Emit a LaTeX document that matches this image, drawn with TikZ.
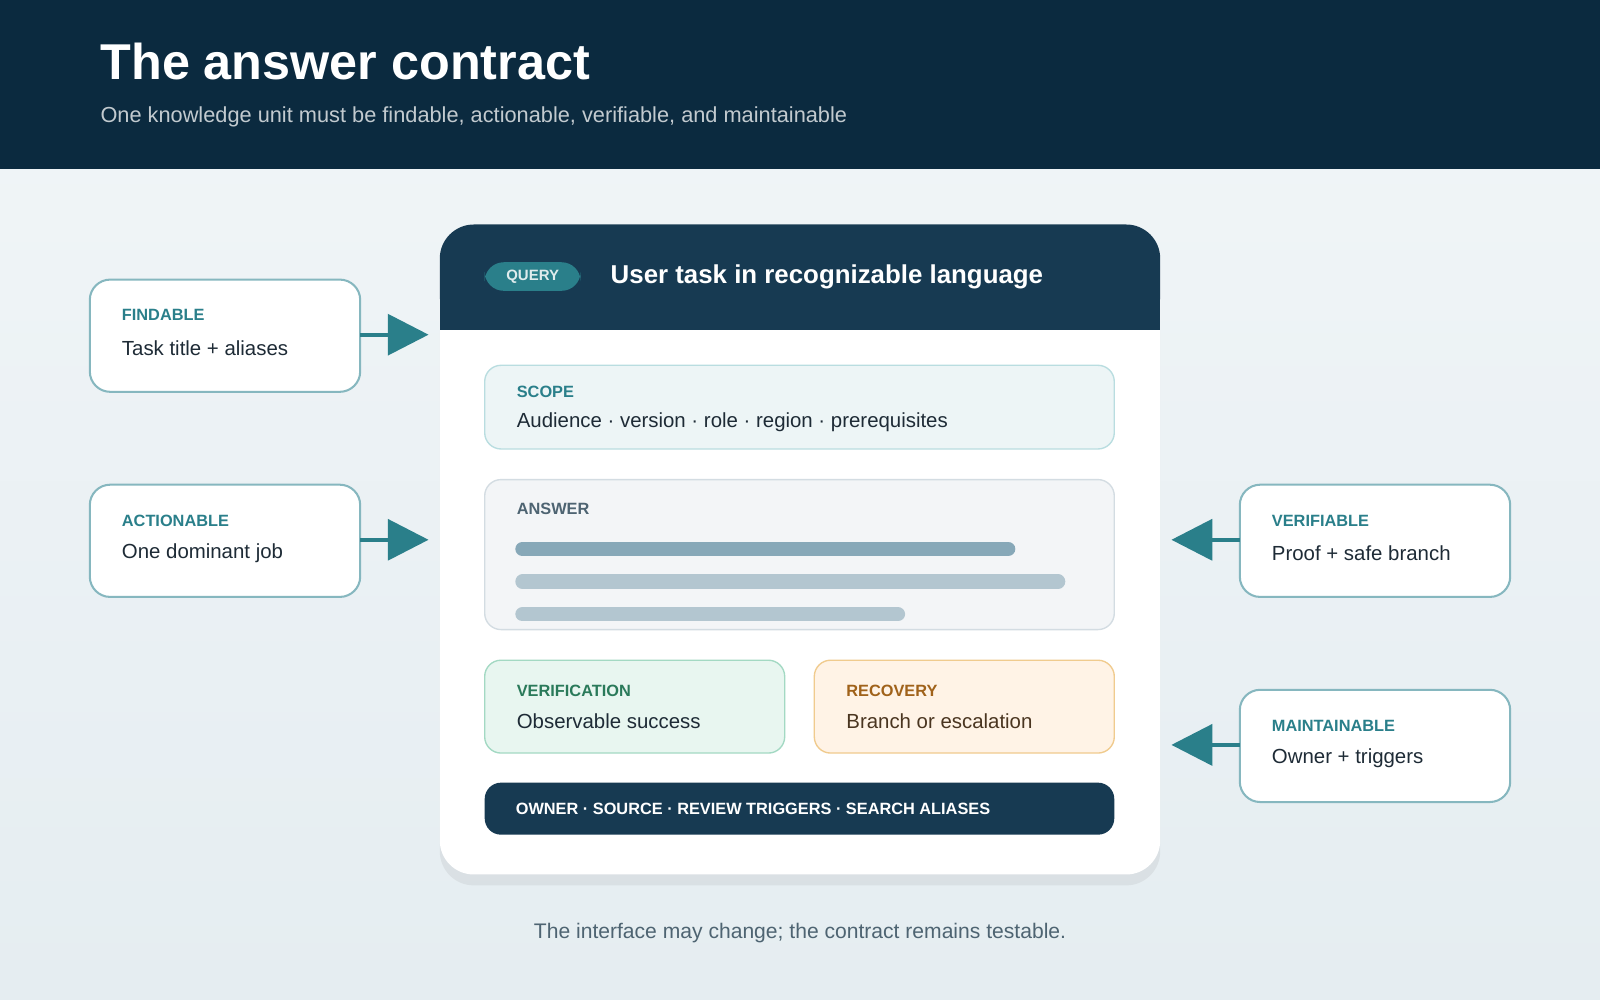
\documentclass[tikz,border=0pt]{standalone}
\usepackage{fontspec}
\setmainfont{Liberation Sans}
\usetikzlibrary{arrows.meta,shadows}
\definecolor{navy}{HTML}{0B2A3F}
\definecolor{cardtop}{HTML}{173A52}
\definecolor{teal}{HTML}{2A7F8A}
\definecolor{sideline}{HTML}{86B7BF}
\definecolor{bgpale}{HTML}{E5EDF1}
\definecolor{inktxt}{HTML}{1E2B36}
\definecolor{greytxt}{HTML}{4E6472}
\definecolor{scopefill}{HTML}{EDF5F6}
\definecolor{scopeline}{HTML}{B9DDE0}
\definecolor{ansfill}{HTML}{F3F5F7}
\definecolor{ansline}{HTML}{D3DCE2}
\definecolor{bardark}{HTML}{87A8B8}
\definecolor{barlight}{HTML}{B3C6D0}
\definecolor{verfill}{HTML}{E8F6F0}
\definecolor{verline}{HTML}{A3D9C3}
\definecolor{vertxt}{HTML}{2A7A5A}
\definecolor{recfill}{HTML}{FFF3E6}
\definecolor{recline}{HTML}{F0CB8E}
\definecolor{rectxt}{HTML}{A0621A}
\definecolor{recbody}{HTML}{4A3520}
\tikzset{every picture/.style={line width=0.75pt},
  sidebox/.style={draw=sideline,line width=1.5pt,fill=white,rounded corners=15},
  tag/.style={anchor=west,inner sep=0.75pt,font=\fontsize{12}{14}\selectfont\bfseries},
  body/.style={anchor=west,inner sep=0.75pt,font=\fontsize{15}{18}\selectfont,text=inktxt},
  pointer/.style={teal,line width=3pt,-{Triangle[length=30pt,width=30pt]}}}
\begin{document}
\begin{tikzpicture}[x=0.75pt,y=0.75pt,yscale=-1,xscale=1]
\useasboundingbox (0,0) rectangle (1568,980);
% background and header
\shade[top color=bgpale!60!white,bottom color=bgpale] (0,166) rectangle (1568,980);
\fill[navy] (0,0) rectangle (1568,166);
\node[anchor=west,inner sep=0pt,text=white,font=\fontsize{37}{40}\selectfont\bfseries] (title) at (98,60) {The answer contract};
\node[anchor=west,inner sep=0pt,text=white!75!navy,font=\fontsize{16}{19}\selectfont] (subtitle) at (98,115) {One knowledge unit must be findable, actionable, verifiable, and maintainable};
% card
\draw[fill=white,draw=none,rounded corners=25,drop shadow={shadow xshift=0pt,shadow yshift=-8pt,opacity=0.12}] (431,220) rectangle (1137,857);
\coordinate (cardW) at (420,540);
\coordinate (cardE) at (1148,540);
\fill[cardtop,rounded corners=25] (431,220) rectangle (1137,323);
\fill[cardtop] (431,280) rectangle (1137,323);
\fill[teal,rounded corners=14] (475,257) rectangle (569,285);
\node[inner sep=0pt,text=white!85!teal,font=\fontsize{11}{13}\selectfont\bfseries] (query) at (522,271) {QUERY};
\node[anchor=west,inner sep=0pt,text=white,font=\fontsize{19}{22}\selectfont\bfseries] (task) at (598,271) {User task in recognizable language};
% scope
\draw[fill=scopefill,draw=scopeline,line width=1pt,rounded corners=12] (475,358) rectangle (1092,440);
\node[tag,text=teal] (scope) at (505,384) {SCOPE};
\node[body] (scopetxt) at (505,414) {Audience · version · role · region · prerequisites};
% answer
\draw[fill=ansfill,draw=ansline,line width=1pt,rounded corners=12] (475,470) rectangle (1092,617);
\node[tag,text=greytxt] (answer) at (505,499) {ANSWER};
\draw[bardark,line width=10.5pt,line cap=round] (512,538) -- (988,538);
\draw[barlight,line width=10.5pt,line cap=round] (512,570) -- (1037,570);
\draw[barlight,line width=10.5pt,line cap=round] (512,602) -- (880,602);
% verification / recovery
\draw[fill=verfill,draw=verline,line width=1pt,rounded corners=12] (475,647) rectangle (769,738);
\node[tag,text=vertxt] (verif) at (505,677) {VERIFICATION};
\node[body] (veriftxt) at (505,707) {Observable success};
\draw[fill=recfill,draw=recline,line width=1pt,rounded corners=12] (798,647) rectangle (1092,738);
\node[tag,text=rectxt] (recov) at (828,677) {RECOVERY};
\node[body,text=recbody] (recovtxt) at (828,707) {Branch or escalation};
% footer bar
\fill[cardtop,rounded corners=12] (475,767) rectangle (1092,818);
\node[anchor=west,inner sep=0pt,text=white,font=\fontsize{12}{14}\selectfont\bfseries] (meta) at (505,793) {OWNER · SOURCE · REVIEW TRIGGERS · SEARCH ALIASES};
% side boxes
\draw[sidebox] (88,274) rectangle (353,384);
\node[tag,text=teal] (find) at (118,309) {FINDABLE};
\node[body] (findtxt) at (118,341) {Task title + aliases};
\draw[sidebox] (88,475) rectangle (353,585);
\node[tag,text=teal] (act) at (118,510) {ACTIONABLE};
\node[body] (acttxt) at (118,542) {One dominant job};
\draw[sidebox] (1215,475) rectangle (1480,585);
\node[tag,text=teal] (ver) at (1245,510) {VERIFIABLE};
\node[body] (vertxtn) at (1245,542) {Proof + safe branch};
\draw[sidebox] (1215,676) rectangle (1480,786);
\node[tag,text=teal] (maint) at (1245,711) {MAINTAINABLE};
\node[body] (mainttxt) at (1245,743) {Owner + triggers};
% pointers
\coordinate (findE) at (353,328);
\coordinate (actE) at (353,529);
\coordinate (verW) at (1215,529);
\coordinate (maintW) at (1215,730);
\draw[pointer] (findE) -- (findE -| cardW);
\draw[pointer] (actE) -- (actE -| cardW);
\draw[pointer] (verW) -- (verW -| cardE);
\draw[pointer] (maintW) -- (maintW -| cardE);
% caption
\node[inner sep=0pt,text=greytxt,font=\fontsize{15.5}{18}\selectfont] (caption) at (784,914) {The interface may change; the contract remains testable.};
\end{tikzpicture}
\end{document}
